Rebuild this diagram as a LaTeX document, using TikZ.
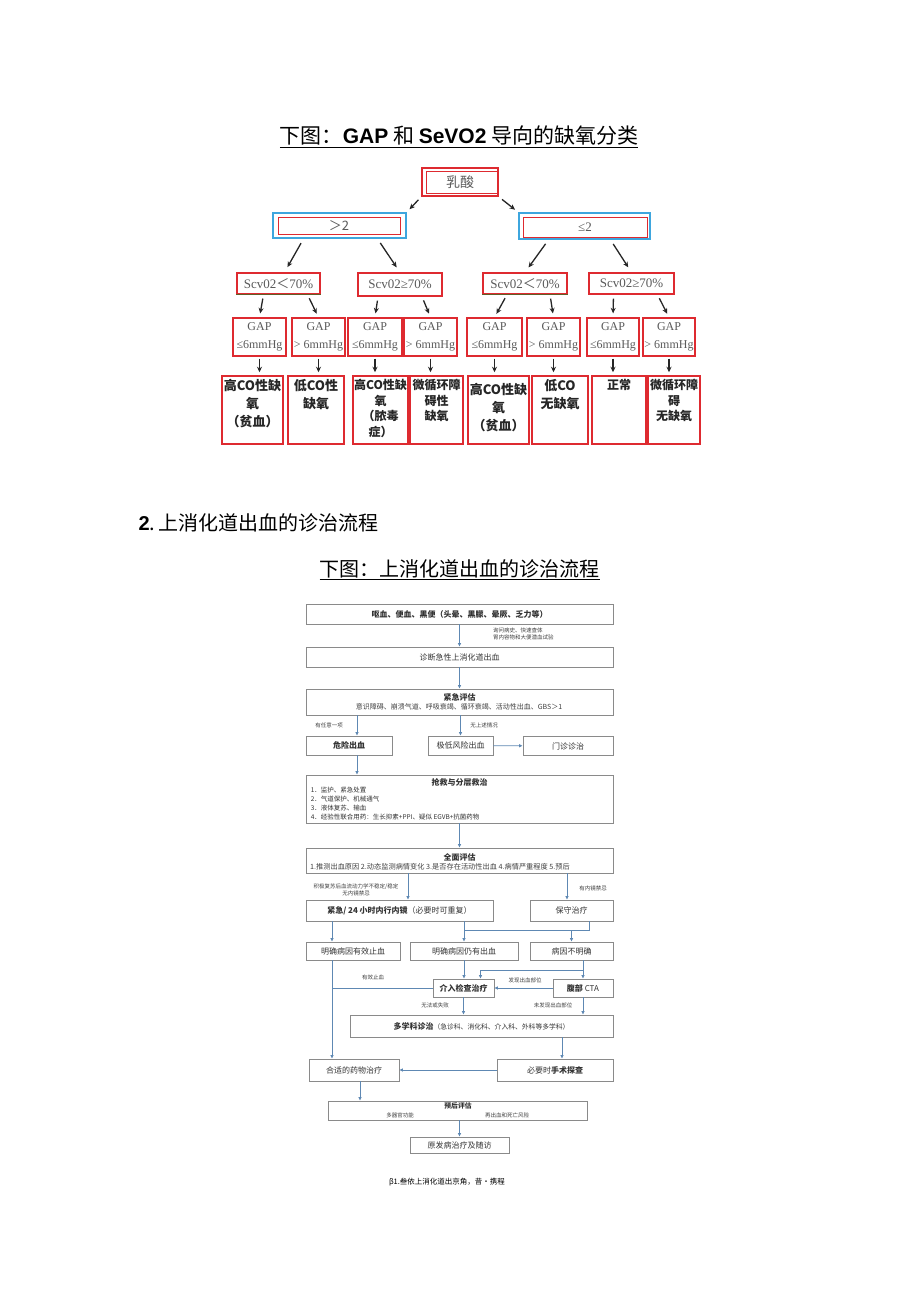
\documentclass[tikz,border=0pt]{standalone}
\usepackage{fontspec}
\setmainfont{Noto Sans CJK SC}
\newfontfamily\arialf{Liberation Sans}
\newfontfamily\timesf{Liberation Serif}
\usetikzlibrary{arrows.meta,calc}
\definecolor{boxred}{HTML}{DE2A30}
\definecolor{boxblue}{HTML}{3EA6DE}
\definecolor{txtgray}{HTML}{5A5A5A}
\definecolor{flowgray}{HTML}{8A8A8A}
\definecolor{flowblue}{HTML}{5E88B3}

\begin{document}
\begin{tikzpicture}[x=1pt, y=-1pt,
    redbox/.style={draw=boxred, line width=1.3pt, inner sep=0pt, minimum height=21pt},
    bluebox/.style={draw=boxblue, line width=1.6pt, inner sep=0pt},
    uptext/.style={text=txtgray, font=\fontsize{13}{16}\selectfont},
    gapbox/.style={redbox, minimum height=38pt, align=center, text=txtgray,
        font=\fontsize{12}{18}\selectfont\timesf},
    resbox/.style={redbox, line width=1.5pt, minimum height=68pt},
    restext/.style={anchor=north, align=center, inner sep=0pt, yshift=-4pt,
        text=black!85, font=\fontsize{13}{18}\selectfont\bfseries},
    ressmall/.style={restext, font=\fontsize{12}{15.5}\selectfont\bfseries},
    tarr/.style={-{Stealth[length=5.5pt,width=5pt]}, line width=1.3pt, black!85},
    fbox/.style={draw=flowgray, line width=0.7pt, inner sep=1pt, text=black!80,
        font=\fontsize{8}{10}\selectfont},
    ftitle/.style={inner sep=0pt, text=black!80, font=\fontsize{8}{10}\selectfont\bfseries},
    farr/.style={draw=flowblue, line width=0.7pt, -{Latex[length=3.5pt,width=3.5pt]}},
    fline/.style={draw=flowblue, line width=0.7pt},
    fnote/.style={inner sep=0pt, text=black!75, font=\fontsize{5.5}{7}\selectfont}]
\useasboundingbox (0,0) rectangle (920,1301);
\fill[white] (0,0) rectangle (920,1301);

\node[font=\fontsize{21}{25}\selectfont] (title1) at (459,137)
    {\underline{下图：{\arialf\bfseries GAP} 和 {\arialf\bfseries SeVO2} 导向的缺氧分类}};

\node[redbox, line width=1.8pt, minimum width=76pt, minimum height=28pt, uptext,
    font=\fontsize{14}{16}\selectfont] (lac) at (460,182) {乳酸};
\draw[boxred, line width=0.8pt] ([xshift=5pt,yshift=-4pt]lac.north west)
    rectangle ([xshift=-2pt,yshift=4pt]lac.south east);

\node[bluebox, minimum width=133pt, minimum height=25pt] (hi) at (339.5,225.5) {};
\node[redbox, line width=1pt, minimum width=122pt, minimum height=17pt, uptext] (hit) at (339,225.5) {＞2};
\node[bluebox, minimum width=131pt, minimum height=26pt] (lo) at (584.5,226) {};
\node[redbox, line width=1pt, minimum width=124pt, minimum height=20pt, uptext] (lot) at (585,227.5) {{\timesf ≤2}};

\draw[tarr, shorten <=4pt, shorten >=4pt] (lac.south west) -- (hi.north east);
\draw[tarr, shorten <=4pt, shorten >=4pt] (lac.south east) -- (lo.north west);

\node[redbox, minimum width=83pt, uptext] (s1) at (278.5,283.5) {{\timesf Scv02}＜{\timesf 70\%}};
\node[redbox, minimum width=84pt, minimum height=23pt, uptext] (s2) at (400,284.5) {{\timesf Scv02≥70\%}};
\node[redbox, minimum width=84pt, uptext] (s3) at (525,283.5) {{\timesf Scv02}＜{\timesf 70\%}};
\node[redbox, minimum width=85pt, uptext] (s4) at (631.5,283.5) {{\timesf Scv02≥70\%}};
\draw[line width=1.3pt, olive!60!black] (s1.south west) -- (s1.south east);
\draw[line width=1.3pt, olive!60!black] (s3.south west) -- (s3.south east);

\draw[tarr, shorten <=5pt, shorten >=6pt] ([xshift=-36pt]hi.south) -- ([xshift=6pt]s1.north);
\draw[tarr, shorten <=5pt, shorten >=6pt] ([xshift=38pt]hi.south) -- (s2.north);
\draw[tarr, shorten <=5pt, shorten >=6pt] ([xshift=-36pt]lo.south) -- (s3.north);
\draw[tarr, shorten <=5pt, shorten >=6pt] ([xshift=26pt]lo.south) -- (s4.north);

\node[gapbox, minimum width=53pt] (g1) at (259.5,337) {GAP\\≤6mmHg};
\node[gapbox, minimum width=53pt] (g2) at (318.5,337) {GAP\\> 6mmHg};
\node[gapbox, minimum width=54pt] (g3) at (375,337) {GAP\\≤6mmHg};
\node[gapbox, minimum width=53pt] (g4) at (430.5,337) {GAP\\> 6mmHg};
\node[gapbox, minimum width=55pt] (g5) at (494.5,337) {GAP\\≤6mmHg};
\node[gapbox, minimum width=53pt] (g6) at (553.5,337) {GAP\\> 6mmHg};
\node[gapbox, minimum width=52pt] (g7) at (613,337) {GAP\\≤6mmHg};
\node[gapbox, minimum width=52pt] (g8) at (669,337) {GAP\\> 6mmHg};

\draw[tarr, shorten <=4pt, shorten >=4pt] ([xshift=-15pt]s1.south) -- (g1.north);
\draw[tarr, shorten <=4pt, shorten >=4pt] ([xshift=29pt]s1.south) -- (g2.north);
\draw[tarr, shorten <=4pt, shorten >=4pt] ([xshift=-22pt]s2.south) -- (g3.north);
\draw[tarr, shorten <=4pt, shorten >=4pt] ([xshift=22pt]s2.south) -- (g4.north);
\draw[tarr, shorten <=4pt, shorten >=4pt] ([xshift=-18pt]s3.south) -- (g5.north);
\draw[tarr, shorten <=4pt, shorten >=4pt] ([xshift=25pt]s3.south) -- (g6.north);
\draw[tarr, shorten <=4pt, shorten >=4pt] ([xshift=-18pt]s4.south) -- (g7.north);
\draw[tarr, shorten <=4pt, shorten >=4pt] ([xshift=26pt]s4.south) -- (g8.north);

\node[resbox, minimum width=61pt] (r1) at (252.5,410) {};
\node[resbox, minimum width=56pt] (r2) at (316,410) {};
\node[resbox, minimum width=55pt] (r3) at (380.5,410) {};
\node[resbox, minimum width=53pt] (r4) at (436.5,410) {};
\node[resbox, minimum width=61pt] (r5) at (498.5,410) {};
\node[resbox, minimum width=56pt] (r6) at (560,410) {};
\node[resbox, minimum width=54pt] (r7) at (619,410) {};
\node[resbox, minimum width=52pt] (r8) at (674,410) {};
\node[restext] (r1t) at (r1.north) {高CO性缺\\氧\\（贫血）};
\node[restext] (r2t) at (r2.north) {低CO性\\缺氧};
\node[ressmall] (r3t) at (r3.north) {高CO性缺\\氧\\（脓毒\\症）};
\node[ressmall] (r4t) at (r4.north) {微循环障\\碍性\\缺氧};
\node[restext, yshift=-4pt] (r5t) at (r5.north) {高CO性缺\\氧\\（贫血）};
\node[restext] (r6t) at (r6.north) {低CO\\无缺氧};
\node[ressmall] (r7t) at (r7.north) {正常};
\node[ressmall] (r8t) at (r8.north) {微循环障\\碍\\无缺氧};

\foreach \i in {1,...,8}
    \draw[tarr, shorten <=2pt, shorten >=3pt] (g\i.south) -- (g\i.south |- r\i.north);

\node[anchor=west, font=\fontsize{20}{24}\selectfont] (sec2) at (135,523)
    {{\arialf\bfseries 2}.\,上消化道出血的诊治流程};
\node[font=\fontsize{20}{24}\selectfont] (title2) at (459.5,570) {\underline{下图：上消化道出血的诊治流程}};

\node[fbox, minimum width=307pt, minimum height=20pt] (f1) at (459.5,614) {\bfseries 呕血、便血、黑便（头晕、黑朦、晕厥、乏力等）};
\node[fnote, anchor=west, align=left] (n1) at (493,634) {询问病史、快速查体\\胃内容物和大便潜血试验};
\node[fbox, minimum width=307pt, minimum height=20pt] (f2) at (459.5,657) {诊断急性上消化道出血};
\node[fbox, minimum width=307pt, minimum height=26pt] (f3) at (459.5,702) {};
\node[ftitle] (f3t) at (459.5,697) {紧急评估};
\node[fnote, font=\fontsize{7}{8}\selectfont] (f3s) at (459,707) {意识障碍、崩溃气道、呼吸衰竭、循环衰竭、活动性出血、GBS＞1};
\draw[farr] (f1) -- (f2);
\draw[farr] (f2) -- (f3);

\node[fbox, minimum width=86pt, minimum height=19pt] (f4) at (349,745.5) {\bfseries 危险出血};
\node[fbox, minimum width=65pt, minimum height=19pt] (f5) at (460.5,745.5) {极低风险出血};
\node[fbox, minimum width=90pt, minimum height=19pt] (f6) at (568,746) {门诊诊治};
\draw[farr] ([xshift=8pt]f4.north |- f3.south) -- ([xshift=8pt]f4.north);
\draw[farr] (f5.north |- f3.south) -- (f5.north);
\draw[farr] (f5) -- (f6);
\node[fnote] (l1) at (329,725) {有任意一项};
\node[fnote] (l2) at (484,725) {无上述情况};

\node[fbox, minimum width=307pt, minimum height=48pt] (f7) at (459.5,799) {};
\node[ftitle, anchor=north] (f7t) at ([yshift=-4pt]f7.north) {抢救与分层救治};
\node[inner sep=0pt, anchor=north west, align=left, text=black!80, font=\fontsize{6.5}{9}\selectfont] (f7l)
    at ([xshift=5pt,yshift=-12pt]f7.north west)
    {1．监护、紧急处置\\2．气道保护、机械通气\\3．液体复苏、输血\\4．经验性联合用药：生长抑素+PPI、疑似 EGVB+抗菌药物};
\draw[farr] ([xshift=8pt]f4.south) -- ([xshift=8pt]f4.south |- f7.north);

\node[fbox, minimum width=307pt, minimum height=25pt] (f8) at (459.5,860.5) {};
\node[ftitle] (f8t) at (459.5,857) {全面评估};
\node[fnote, font=\fontsize{7.2}{8}\selectfont] (f8s) at (440,867) {1.推测出血原因 2.动态监测病情变化 3.是否存在活动性出血 4.病情严重程度 5.预后};
\draw[farr] (f7) -- (f8);

\node[fbox, minimum width=187pt, minimum height=21pt] (f9) at (399.5,910.5) {{\bfseries 紧急/ 24 小时内行内镜}（必要时可重复）};
\node[fbox, minimum width=83pt, minimum height=21pt] (f10) at (571.5,910.5) {保守治疗};
\draw[farr] ([xshift=8.5pt]f9.north |- f8.south) -- ([xshift=8.5pt]f9.north);
\draw[farr] ([xshift=-4.5pt]f10.north |- f8.south) -- ([xshift=-4.5pt]f10.north);
\node[fnote, align=center] (l3) at (356,890) {积极复苏后血流动力学不稳定/稳定\\无内镜禁忌};
\node[fnote] (l4) at (593,888) {有内镜禁忌};

\node[fbox, minimum width=94pt, minimum height=18pt] (f11) at (353,951) {明确病因有效止血};
\node[fbox, minimum width=108pt, minimum height=18pt] (f12) at (464,951) {明确病因仍有出血};
\node[fbox, minimum width=83pt, minimum height=18pt] (f13) at (571.5,951) {病因不明确};
\coordinate (j1) at ($(f12.north)+(0,-11)$);
\draw[farr] ([xshift=-21pt]f11.north |- f9.south) -- ([xshift=-21pt]f11.north);
\draw[farr] (f12.north |- f9.south) -- (f12.north);
\draw[fline] ([xshift=18pt]f10.south) |- (j1);
\draw[farr] (f13.north |- j1) -- (f13.north);

\node[fbox, minimum width=61pt, minimum height=18pt] (f14) at (463.5,988) {\bfseries 介入检查治疗};
\node[fbox, minimum width=60pt, minimum height=18pt] (f15) at (583,988) {{\bfseries 腹部} CTA};
\draw[farr] (f12.south) -- (f12.south |- f14.north);
\draw[farr] (f15.north |- f13.south) -- (f15.north);
\draw[farr] ($(f15.north)+(0,-8)$) -| ([xshift=17pt]f14.north);
\draw[farr] (f15) -- (f14);
\draw[fline] (f14.west) -- ([xshift=-21pt]f11.south |- f14.west);
\node[fnote] (l5) at (525,980) {发现出血部位};
\node[fnote] (l6) at (373,977) {有效止血};

\node[fbox, minimum width=263pt, minimum height=22pt] (f16) at (481.5,1026)
    {{\bfseries 多学科诊治}{\fontsize{6.8}{8}\selectfont（急诊科、消化科、介入科、外科等多学科）}};
\draw[farr] (f14.south) -- (f14.south |- f16.north);
\draw[farr] (f15.south) -- (f15.south |- f16.north);
\node[fnote] (l7) at (435,1005) {无法或失败};
\node[fnote] (l8) at (553,1005) {未发现出血部位};

\node[fbox, minimum width=90pt, minimum height=22pt] (f17) at (354,1070) {合适的药物治疗};
\node[fbox, minimum width=116pt, minimum height=22pt] (f18) at (555,1070) {必要时{\bfseries 手术探查}};
\draw[farr] ([xshift=-21pt]f11.south) -- ([xshift=-21pt]f11.south |- f17.north);
\draw[farr] ([xshift=7pt]f18.north |- f16.south) -- ([xshift=7pt]f18.north);
\draw[farr] (f18) -- (f17);

\node[fbox, minimum width=259pt, minimum height=19pt] (f19) at (457.5,1110.5) {};
\node[ftitle, font=\fontsize{6.8}{8}\selectfont\bfseries] (f19t) at (458,1106) {预后评估};
\node[fnote] (l9) at (400,1115) {多器官功能};
\node[fnote] (l10) at (507,1115) {再出血和死亡风险};
\draw[farr] ([xshift=6pt]f17.south) -- ([xshift=6pt]f17.south |- f19.north);

\node[fbox, minimum width=99pt, minimum height=16pt] (f20) at (459.5,1145) {原发病治疗及随访};
\draw[farr] (f20.north |- f19.south) -- (f20.north);

\node[font=\fontsize{7.5}{9}\selectfont] (cap) at (447,1182) {β1.叁依上消化道出京角，昔·携程};
\end{tikzpicture}
\end{document}
